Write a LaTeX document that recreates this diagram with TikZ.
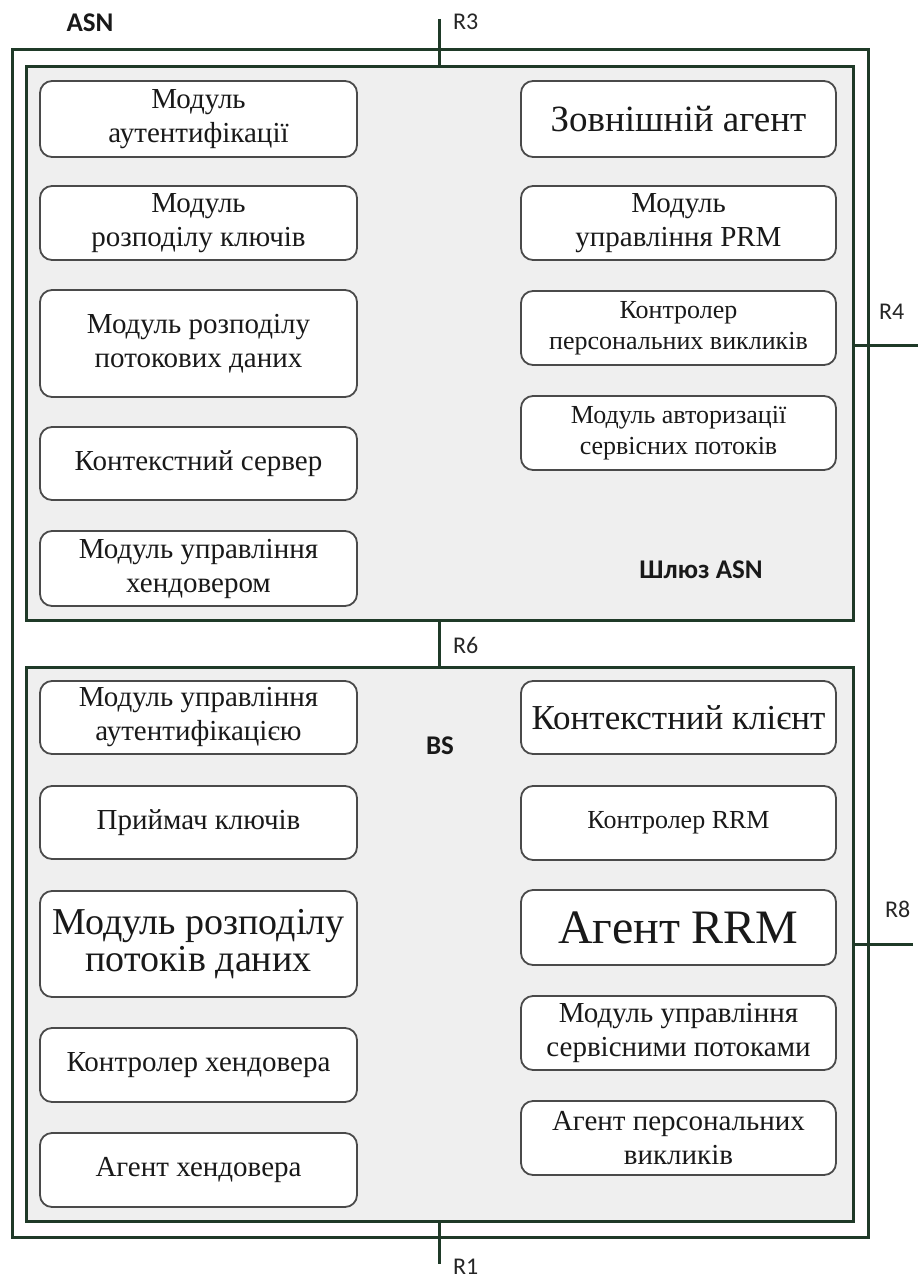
\documentclass[tikz,border=0pt]{standalone}
\usepackage{fontspec}
\setmainfont{Liberation Serif}
\newfontfamily\labfont{Carlito}
\definecolor{frame}{HTML}{1F3A28}
\definecolor{panelfill}{HTML}{EFEFEF}
\definecolor{boxline}{HTML}{4A4A4A}
\begin{document}
\begin{tikzpicture}[x=1pt,y=-1pt,
  outerbox/.style={draw=frame,line width=3pt,fill=white,rectangle,inner sep=0pt},
  panel/.style={draw=frame,line width=3pt,fill=panelfill,rectangle,inner sep=0pt},
  mbox/.style={draw=boxline,line width=1.8pt,fill=white,rounded corners=12pt,rectangle,inner sep=0pt,align=center,text=black!90},
  lcol/.style={mbox,minimum width=317pt},
  rcol/.style={mbox,minimum width=315pt},
  fn/.style={font=\fontsize{29}{34}\selectfont},
  fs/.style={font=\fontsize{26}{31}\selectfont},
  fl/.style={font=\fontsize{37}{37}\selectfont},
  lab/.style={font=\labfont\fontsize{24}{28}\selectfont,text=black!85,inner sep=0pt},
  blab/.style={font=\labfont\bfseries\fontsize{27}{30}\selectfont,text=black!90,inner sep=0pt},
  wire/.style={draw=frame,line width=3pt}
]
\useasboundingbox (0,0) rectangle (918,1279);
% frames
\node[outerbox,minimum width=856pt,minimum height=1187pt] (asn) at (440,643.5) {};
\node[panel,minimum width=827pt,minimum height=553pt] (gw) at (439.5,343.5) {};
\node[panel,minimum width=827pt,minimum height=554pt] (bs) at (439.5,944) {};

% labels
\node[blab] (asnlab) at (90,23) {ASN};
\node[blab] (gwlab) at (701,570) {Шлюз ASN};
\node[blab] (bslab) at (440,746) {BS};
\node[lab,anchor=west] (r3) at (453,22) {R3};
\node[lab,anchor=west] (r6) at (453,645) {R6};
\node[lab,anchor=west] (r1) at (453,1267) {R1};
\node[lab,anchor=west] (r4) at (879,312) {R4};
\node[lab,anchor=west] (r8) at (885,909) {R8};

% connectors
\coordinate (r3top) at (439,19);
\coordinate (r3bot) at (439,67);
\draw[wire] (r3top) -- (r3bot);
\coordinate (r6top) at (439,620);
\coordinate (r6bot) at (439,667);
\draw[wire] (r6top) -- (r6bot);
\coordinate (r1top) at (439,1221);
\coordinate (r1bot) at (439,1264);
\draw[wire] (r1top) -- (r1bot);
\coordinate (r4in) at (853,345);
\coordinate (r4out) at (918,345);
\draw[wire] (r4in) -- (r4out);
\coordinate (r8in) at (853,944);
\coordinate (r8out) at (913,944);
\draw[wire] (r8in) -- (r8out);

% upper left
\node[lcol,fn,minimum height=76pt] (ul1) at (198.5,119) {Модуль\\аутентифікації};
\node[lcol,fn,minimum height=74pt] (ul2) at (198.5,223) {Модуль\\розподілу ключів};
\node[lcol,fn,minimum height=107pt] (ul3) at (198.5,343.5) {Модуль розподілу\\потокових даних};
\node[lcol,fn,minimum height=73pt] (ul4) at (198.5,463.5) {Контекстний сервер};
\node[lcol,fn,minimum height=75pt] (ul5) at (198.5,568.5) {Модуль управління\\хендовером};
% upper right
\node[rcol,fl,minimum height=76pt] (ur1) at (678.5,119) {Зовнішній агент};
\node[rcol,fn,minimum height=74pt] (ur2) at (678.5,223) {Модуль\\управління PRM};
\node[rcol,fs,minimum height=74pt] (ur3) at (678.5,328) {Контролер\\персональних викликів};
\node[rcol,fs,minimum height=74pt] (ur4) at (678.5,433) {Модуль авторизації\\сервісних потоків};
% lower left
\node[lcol,fn,minimum height=73pt] (ll1) at (198.5,717.5) {Модуль управління\\аутентифікацією};
\node[lcol,fn,minimum height=73pt] (ll2) at (198.5,822.5) {Приймач ключів};
\node[lcol,font=\fontsize{38}{37}\selectfont,minimum height=106pt] (ll3) at (198.5,944) {Модуль розподілу\\потоків даних};
\node[lcol,fn,minimum height=74pt] (ll4) at (198.5,1065) {Контролер хендовера};
\node[lcol,fn,minimum height=74pt] (ll5) at (198.5,1170) {Агент хендовера};
% lower right
\node[rcol,font=\fontsize{35}{37}\selectfont,minimum height=73pt] (lr1) at (678.5,717.5) {Контекстний клієнт};
\node[rcol,fs,minimum height=74pt] (lr2) at (678.5,823) {Контролер RRM};
\node[rcol,font=\fontsize{48}{50}\selectfont,minimum height=75pt] (lr3) at (678.5,927.5) {Агент RRM};
\node[rcol,fn,minimum height=74pt] (lr4) at (678.5,1033) {Модуль управління\\сервісними потоками};
\node[rcol,fn,minimum height=74pt] (lr5) at (678.5,1138) {Агент персональних\\викликів};
\end{tikzpicture}
\end{document}
